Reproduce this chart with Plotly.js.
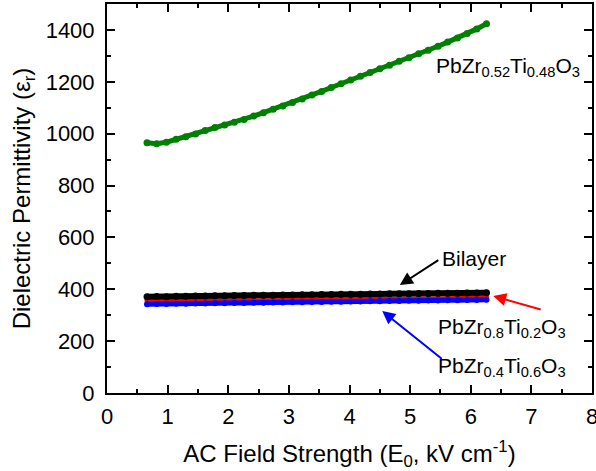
<!DOCTYPE html>
<html>
<head>
<meta charset="utf-8">
<script src="https://cdn.plot.ly/plotly-3.0.1.min.js"></script>
<style>html,body{margin:0;padding:0;background:#fff;}#chart{width:596px;height:471px;}</style>
</head>
<body>
<div id="chart"></div>
<script>
// AC field strength (kV/cm)
const fieldStrength = [0.66,0.82,0.98,1.14,1.30,1.46,1.62,1.78,1.94,2.10,2.26,2.42,2.58,2.74,2.90,3.06,3.22,3.38,3.54,3.70,3.86,4.02,4.18,4.34,4.50,4.66,4.82,4.98,5.14,5.30,5.46,5.62,5.78,5.94,6.10,6.26];
// Dielectric permittivity
const pzt5248 = [965,961,967,978,988,999,1012,1024,1033,1044,1055,1068,1081,1094,1107,1120,1134,1149,1163,1178,1192,1207,1221,1236,1250,1264,1279,1293,1308,1322,1337,1353,1369,1386,1404,1424];
const bilayer = [371,372,371,373,373,374,374,375,375,376,376,377,377,377,378,378,379,379,380,380,381,381,381,382,382,383,383,383,384,384,385,385,385,386,386,387];
const pzt8020 = [356,356,357,357,357,358,358,359,359,359,360,360,360,361,361,361,362,362,363,363,363,364,364,364,365,365,365,366,366,366,367,367,368,368,368,369];
const pzt4060 = [342,343,343,344,344,345,345,346,346,347,347,348,348,349,349,350,350,351,351,352,352,353,353,354,354,355,355,356,356,357,357,358,358,359,359,360];
const seriesNames = ['PbZr<sub>0.52</sub>Ti<sub>0.48</sub>O<sub>3</sub>','Bilayer','PbZr<sub>0.8</sub>Ti<sub>0.2</sub>O<sub>3</sub>','PbZr<sub>0.4</sub>Ti<sub>0.6</sub>O<sub>3</sub>'];
const xTicks = [0,1,2,3,4,5,6,7,8];
const yTicks = [0,200,400,600,800,1000,1200,1400];

const FONT = 'Liberation Sans, Arial, sans-serif';
function tr(y, color, name, msize, lw) {
  return {x: fieldStrength, y: y, type: 'scatter', mode: 'lines+markers', name: name,
    line: {color: color, width: lw}, marker: {color: color, size: msize, symbol: 'circle'}};
}
const data = [
  tr(pzt5248, '#008000', seriesNames[0], 7, 5),
  tr(pzt8020, '#ff0000', seriesNames[2], 5, 3),
  tr(bilayer, '#000000', seriesNames[1], 7, 6),
  tr(pzt4060, '#0000ff', seriesNames[3], 6, 5)
];
const axisCommon = {
  showgrid: false, zeroline: false, showline: true, linecolor: '#000', linewidth: 2,
  mirror: 'allticks', ticks: 'inside', ticklen: 8, tickwidth: 2, tickcolor: '#000',
  tickfont: {family: FONT, size: 22, color: '#000'}, ticklabeloverflow: 'allow'
};
const annFont = {family: FONT, size: 21, color: '#000'};
const layout = {
  width: 596, height: 471,
  margin: {l: 107, r: 4, t: 4, b: 78},
  paper_bgcolor: '#fff', plot_bgcolor: '#fff',
  showlegend: false,
  font: {family: FONT, color: '#000'},
  xaxis: Object.assign({}, axisCommon, {
    range: [0, 8], tickvals: xTicks, ticktext: xTicks.map(String), ticklabelstandoff: 3,
    minor: {ticks: 'inside', ticklen: 4, tickwidth: 2, tickcolor: '#000', dtick: 0.5, showgrid: false},
    title: {text: 'AC Field Strength (E<sub>0</sub>, kV cm<sup>-1</sup>)', font: {family: FONT, size: 24, color: '#000'}, standoff: 23}
  }),
  yaxis: Object.assign({}, axisCommon, {
    range: [0, 1500], tickvals: yTicks, ticktext: yTicks.map(String), ticklabelstandoff: 6,
    minor: {ticks: 'inside', ticklen: 4, tickwidth: 2, tickcolor: '#000', dtick: 100, showgrid: false},
    title: {text: 'Dielectric Permittivity (ε<sub>r</sub>)', font: {family: FONT, size: 24, color: '#000'}, standoff: 8}
  }),
  annotations: [
    {x: 6.62, y: 1258, xref: 'x', yref: 'y', text: seriesNames[0], showarrow: false, font: annFont},
    {x: 6.06, y: 518, xref: 'x', yref: 'y', text: seriesNames[1], showarrow: false, font: annFont},
    {x: 6.51, y: 250, xref: 'x', yref: 'y', text: seriesNames[2], showarrow: false, font: annFont},
    {x: 6.51, y: 100, xref: 'x', yref: 'y', text: seriesNames[3], showarrow: false, font: annFont},
    {x: 4.83, y: 416, xref: 'x', yref: 'y', text: '', showarrow: true, ax: 40, ay: -26, arrowhead: 2, arrowsize: 1.3, arrowwidth: 2, arrowcolor: '#000', standoff: 0},
    {x: 6.37, y: 374, xref: 'x', yref: 'y', text: '', showarrow: true, ax: 49, ay: 14, arrowhead: 2, arrowsize: 1.3, arrowwidth: 2, arrowcolor: '#ff0000', standoff: 0},
    {x: 4.54, y: 316, xref: 'x', yref: 'y', text: '', showarrow: true, ax: 61, ay: 49, arrowhead: 2, arrowsize: 1.3, arrowwidth: 2, arrowcolor: '#0000ff', standoff: 0}
  ]
};
Plotly.newPlot('chart', data, layout, {displayModeBar: false, staticPlot: true});
</script>
</body>
</html>
